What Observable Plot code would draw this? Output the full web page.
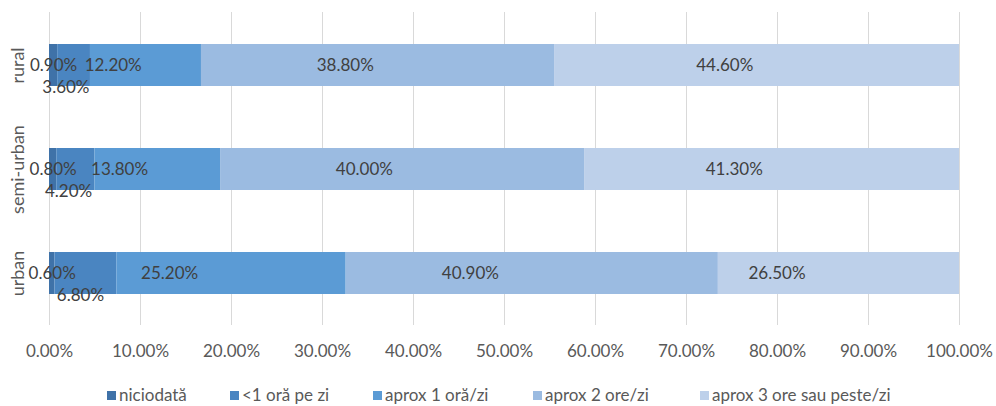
<!DOCTYPE html>
<html>
<head>
<meta charset="utf-8">
<script src="https://cdn.jsdelivr.net/npm/d3@7"></script>
<script src="https://cdn.jsdelivr.net/npm/@observablehq/plot@0.6"></script>
<style>
  html, body { margin: 0; padding: 0; background: #fff; }
  body { width: 996px; height: 406px; overflow: hidden; font-family: Lato, "Open Sans", sans-serif; }
  #legend { position: relative; height: 36px; font-size: 17px; line-height: 20px; color: #595959; }
  .item { position: absolute; top: 15px; display: flex; align-items: center; white-space: nowrap; }
  .sw { width: 9px; height: 9px; margin-right: 3px; }
</style>
</head>
<body>
<div id="chart"></div>
<div id="legend"></div>
<script>
const regions = ["rural", "semi-urban", "urban"];
const categories = ["niciodată", "<1 oră pe zi", "aprox 1 oră/zi", "aprox 2 ore/zi", "aprox 3 ore sau peste/zi"];
const ruralValues = [0.9, 3.6, 12.2, 38.8, 44.6];
const semiUrbanValues = [0.8, 4.2, 13.8, 40.0, 41.3];
const urbanValues = [0.6, 6.8, 25.2, 40.9, 26.5];
const xTicks = [0, 10, 20, 30, 40, 50, 60, 70, 80, 90, 100];
const colors = ["#3f72a8", "#4a85c1", "#5b9bd5", "#9bbbe1", "#bdd0ea"];

const seriesByRegion = [ruralValues, semiUrbanValues, urbanValues];
const data = [];
regions.forEach((r, i) => {
  categories.forEach((c, j) => {
    data.push({region: r, category: c, value: seriesByRegion[i][j]});
  });
});

const stackOpts = {x: "value", y: "region", z: "category", order: null};
const fmt = d => d.toFixed(2) + "%";

const chart = Plot.plot({
  width: 996,
  height: 370,
  marginLeft: 49,
  marginRight: 37,
  marginTop: 12,
  marginBottom: 45,
  style: {fontFamily: "Lato, 'Open Sans', sans-serif", background: "#fff"},
  x: {domain: [0, 100], ticks: xTicks, axis: null, label: null},
  y: {domain: regions, paddingInner: 0.6, paddingOuter: 0.3, axis: null, label: null},
  color: {domain: categories, range: colors},
  marks: [
    Plot.gridX(xTicks, {stroke: "#d9d9d9", strokeOpacity: 1, strokeWidth: 1}),
    Plot.axisX(xTicks, {tickSize: 0, tickPadding: 19, tickFormat: fmt, fontSize: 17, fill: "#595959", label: null}),
    Plot.barX(data, Plot.stackX({...stackOpts, fill: "category", clip: true})),
    Plot.text(data.filter(d => d.category !== categories[1]), Plot.stackX({...stackOpts, text: d => fmt(d.value), fill: "#404040", fontSize: 17})),
    Plot.text(data.filter(d => d.category === categories[1]), Plot.stackX({...stackOpts, text: d => fmt(d.value), fill: "#404040", fontSize: 17, dy: 22})),
    Plot.text(regions, {y: d => d, text: d => d, frameAnchor: "left", dx: -31, rotate: -90, textAnchor: "middle", lineAnchor: "middle", fill: "#595959", fontSize: 18})
  ]
});
document.getElementById("chart").appendChild(chart);

const legend = document.getElementById("legend");
const lefts = [107, 230, 373, 533, 700];
categories.forEach((c, i) => {
  const it = document.createElement("div");
  it.className = "item";
  it.style.left = lefts[i] + "px";
  const sw = document.createElement("div");
  sw.className = "sw";
  sw.style.background = colors[i];
  const t = document.createElement("span");
  t.textContent = c;
  it.appendChild(sw);
  it.appendChild(t);
  legend.appendChild(it);
});
</script>
</body>
</html>
